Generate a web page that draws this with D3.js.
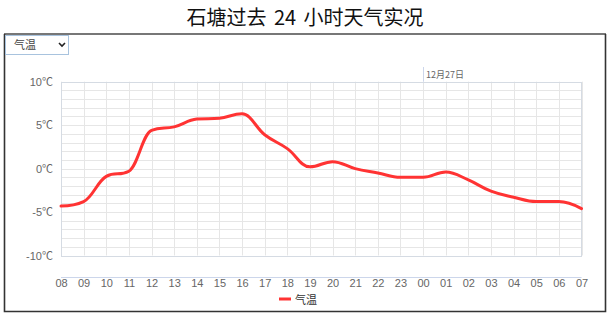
<!DOCTYPE html>
<html>
<head>
<meta charset="utf-8">
<script src="https://cdn.jsdelivr.net/npm/d3@7"></script>
<style>
  html, body { margin: 0; padding: 0; background: #fff; }
  svg { display: block; font-family: "Liberation Sans", Arial, "Noto Sans CJK SC", sans-serif; }
</style>
</head>
<body>
<svg id="chart" width="613" height="323"></svg>
<script>
const titleText = "石塘过去 24 小时天气实况";
const seriesName = "气温";
const hours = ["08","09","10","11","12","13","14","15","16","17","18","19","20","21","22","23","00","01","02","03","04","05","06","07"];
const temps = [-4.3,-3.8,-0.9,-0.3,4.4,4.8,5.7,5.8,6.3,3.9,2.3,0.2,0.8,0.0,-0.5,-1.0,-1.0,-0.4,-1.3,-2.6,-3.3,-3.8,-3.8,-4.6];
const yTicks = [-10,-5,0,5,10];
const yMinor = d3.range(-10, 11, 1);
const dateMark = { hour: "00", label: "12月27日" };

const svg = d3.select("#chart");
const cjk = '"Noto Sans CJK SC", "Liberation Sans", sans-serif';

// outer frame
svg.append("rect").attr("x", 0).attr("y", 0).attr("width", 613).attr("height", 323).attr("fill", "#fff");
svg.append("line").attr("x1", 4).attr("x2", 606).attr("y1", 34).attr("y2", 34).attr("stroke", "#777").attr("stroke-width", 2);
svg.append("path").attr("d", "M4.5,34 V311.5 H605.5 V34").attr("fill", "none").attr("stroke", "#333").attr("stroke-width", 1.6);

// title
svg.append("text").attr("x", 305).attr("y", 25).attr("text-anchor", "middle")
  .style("font-family", cjk).style("font-size", "20px").attr("fill", "#111").attr("word-spacing", "3px").text(titleText);

const x = d3.scalePoint().domain(hours).range([61, 581.5]);
const y = d3.scaleLinear().domain([-10, 10]).range([255.5, 81.7]);

// grid
const g = svg.append("g");
g.selectAll(".hg").data(yMinor).join("line")
  .attr("x1", 61).attr("x2", 581.5)
  .attr("y1", d => Math.round(y(d)) + 0.5).attr("y2", d => Math.round(y(d)) + 0.5)
  .attr("stroke", "#e6e6e6").attr("stroke-width", 1);
g.selectAll(".vg").data(hours).join("line")
  .attr("x1", d => Math.round(x(d)) + 0.5).attr("x2", d => Math.round(x(d)) + 0.5)
  .attr("y1", y(10)).attr("y2", y(-10))
  .attr("stroke", "#e6e6e6").attr("stroke-width", 1);
// plot border
g.append("rect").attr("x", 61.5).attr("y", Math.round(y(10)) + 0.5)
  .attr("width", 520).attr("height", Math.round(y(-10)) - Math.round(y(10)))
  .attr("fill", "none").attr("stroke", "#d5dbe3").attr("stroke-width", 1);

// date plot line
svg.append("line").attr("x1", Math.round(x(dateMark.hour)) + 0.5).attr("x2", Math.round(x(dateMark.hour)) + 0.5)
  .attr("y1", 67).attr("y2", y(10)).attr("stroke", "#ccd6eb").attr("stroke-width", 1);
svg.append("text").attr("x", x(dateMark.hour) + 3).attr("y", 78)
  .style("font-family", cjk).style("font-size", "9px").attr("fill", "#666").text(dateMark.label);

// y labels
svg.selectAll(".yl").data(yTicks).join("text")
  .attr("x", 53).attr("y", d => y(d) + 4).attr("text-anchor", "end")
  .style("font-size", "11px").attr("fill", "#666").text(d => d + "℃");

// x axis (offset)
const xAxis = d3.axisBottom(x).tickSize(0).tickPadding(8);
const xa = svg.append("g").attr("transform", "translate(0,277)").call(xAxis);
xa.select(".domain").attr("stroke", "#ccd6eb").attr("d", "M61,0.5H581.5");
xa.selectAll("text").style("font-size", "11px").style("font-family", '"Liberation Sans", Arial, sans-serif').attr("fill", "#666").attr("dy", "0.2em");

// Highcharts-like spline
const pts = hours.map((h, i) => ({ px: x(h), py: y(temps[i]) }));
function splinePath(points) {
  const p = d3.path();
  const sm = 1.5, den = sm + 1;
  points.forEach((pt, i) => {
    if (i === 0) { p.moveTo(pt.px, pt.py); return; }
    const last = points[i - 1], next = points[i + 1];
    let lcx = pt.px, lcy = pt.py;
    if (next) {
      lcx = (sm * pt.px + last.px) / den; lcy = (sm * pt.py + last.py) / den;
      let rcx = (sm * pt.px + next.px) / den, rcy = (sm * pt.py + next.py) / den;
      let corr = 0;
      if (rcx !== lcx) corr = ((rcy - lcy) * (rcx - pt.px)) / (rcx - lcx) + pt.py - rcy;
      lcy += corr; rcy += corr;
      if (lcy > last.py && lcy > pt.py) { lcy = Math.max(last.py, pt.py); rcy = 2 * pt.py - lcy; }
      else if (lcy < last.py && lcy < pt.py) { lcy = Math.min(last.py, pt.py); rcy = 2 * pt.py - lcy; }
      if (rcy > next.py && rcy > pt.py) { rcy = Math.max(next.py, pt.py); lcy = 2 * pt.py - rcy; }
      else if (rcy < next.py && rcy < pt.py) { rcy = Math.min(next.py, pt.py); lcy = 2 * pt.py - rcy; }
      pt.rcx = rcx; pt.rcy = rcy;
    }
    const c1x = last.rcx !== undefined ? last.rcx : last.px;
    const c1y = last.rcy !== undefined ? last.rcy : last.py;
    p.bezierCurveTo(c1x, c1y, lcx, lcy, pt.px, pt.py);
  });
  return p.toString();
}
svg.append("path").attr("d", splinePath(pts)).attr("fill", "none")
  .attr("stroke", "#ff3333").attr("stroke-width", 3).attr("stroke-linejoin", "round").attr("stroke-linecap", "round");

// legend
svg.append("line").attr("x1", 279).attr("x2", 291).attr("y1", 299).attr("y2", 299)
  .attr("stroke", "#ff3333").attr("stroke-width", 3);
svg.append("text").attr("x", 295).attr("y", 303.5)
  .style("font-family", cjk).style("font-size", "11px").attr("fill", "#333").text(seriesName);

// select control
const sel = svg.append("g");
sel.append("rect").attr("x", 5.5).attr("y", 35.5).attr("width", 63).attr("height", 19)
  .attr("fill", "#fff").attr("stroke", "#a8c3de").attr("stroke-width", 1);
sel.append("text").attr("x", 14).attr("y", 49).style("font-family", cjk).style("font-size", "11px")
  .attr("fill", "#444").text(seriesName);
sel.append("path").attr("d", "M59,43 L62,46 L65,43").attr("fill", "none").attr("stroke", "#222").attr("stroke-width", 1.6);
</script>
</body>
</html>
